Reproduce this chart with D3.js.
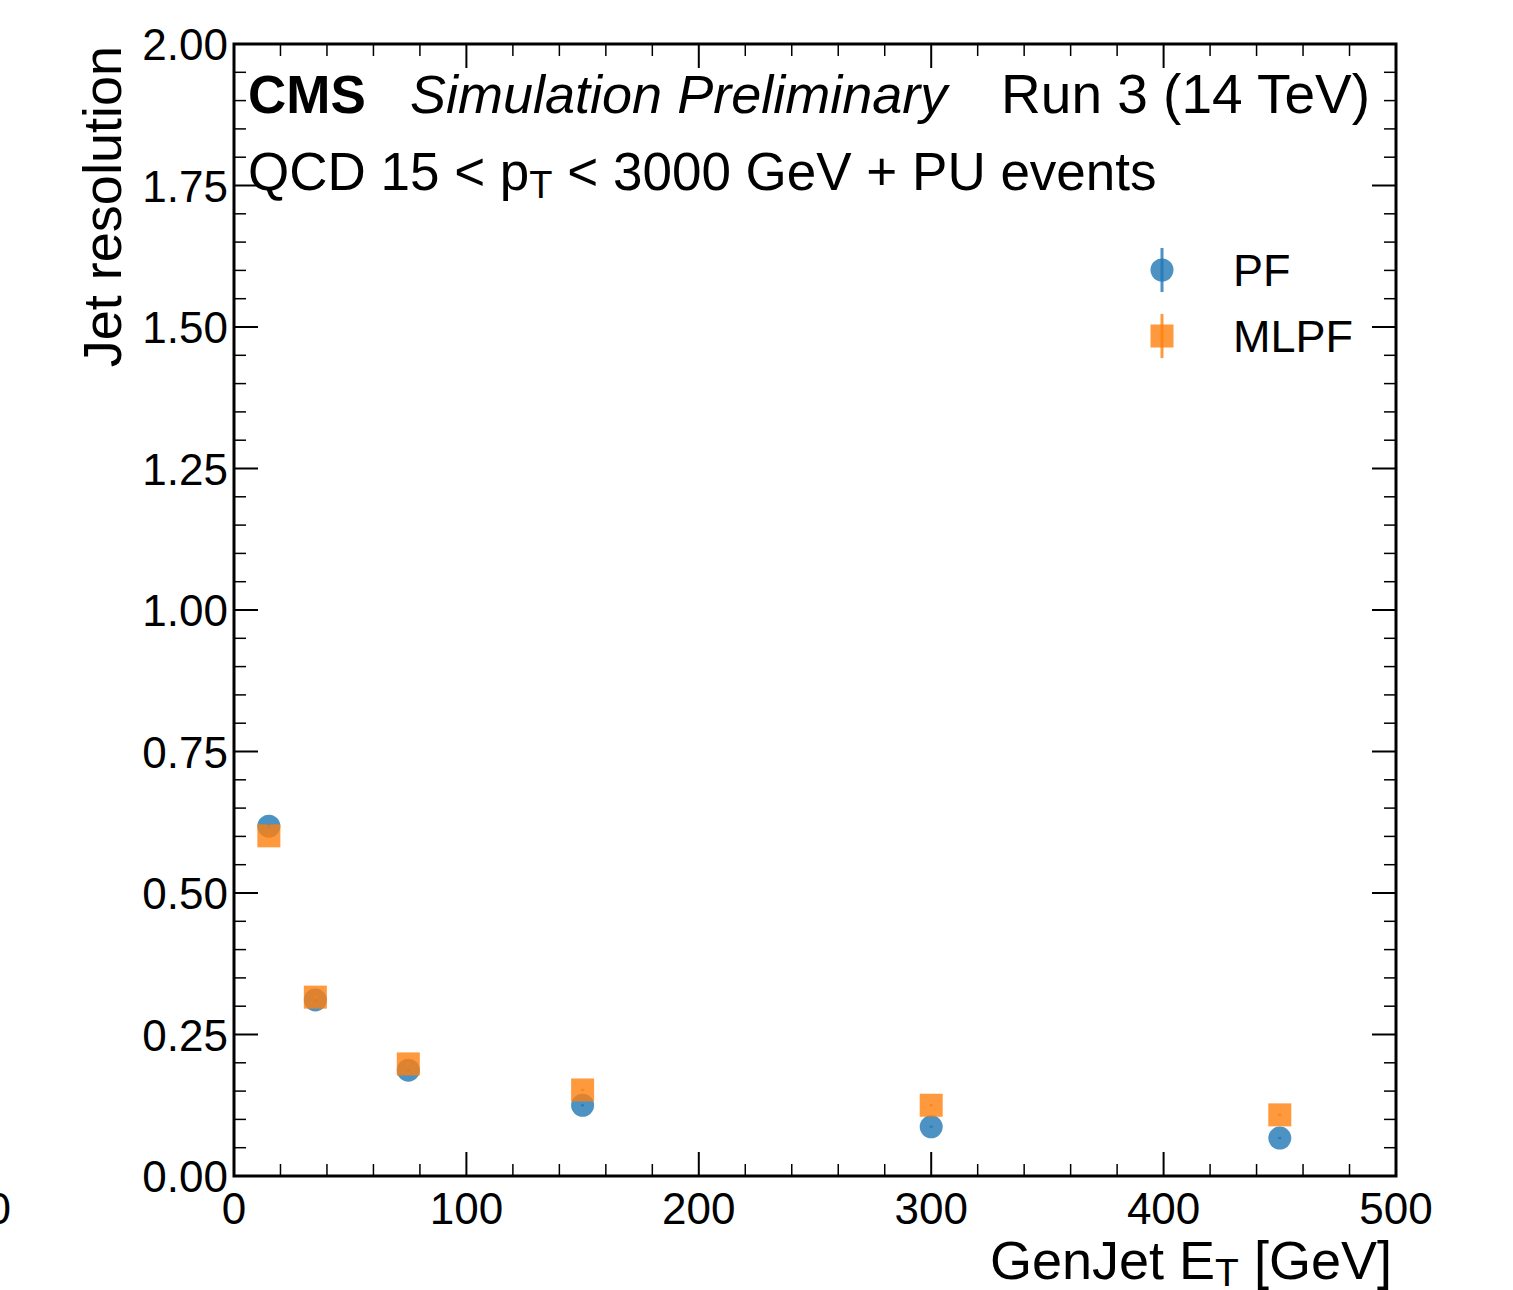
<!DOCTYPE html>
<html>
<head>
<meta charset="utf-8">
<script src="https://cdn.jsdelivr.net/npm/d3@7"></script>
<style>
  body { margin: 0; background: #fff; }
  svg { display: block; font-family: "Liberation Sans", Arial, sans-serif; }
</style>
</head>
<body>
<div id="chart"></div>
<script>
// bin centres of GenJet E_T [GeV]
const binCentres = [15, 35, 75, 150, 300, 450];
const pfResolution = [0.618, 0.311, 0.187, 0.125, 0.087, 0.067];
const mlpfResolution = [0.601, 0.316, 0.198, 0.152, 0.125, 0.108];
const pfErr = [0.004, 0.003, 0.002, 0.002, 0.002, 0.002];
const mlpfErr = [0.004, 0.003, 0.002, 0.002, 0.002, 0.002];
const xTicks = [0, 100, 200, 300, 400, 500];
const yTicks = [0, 0.25, 0.5, 0.75, 1.0, 1.25, 1.5, 1.75, 2.0];

const width = 1513, height = 1290;
const margin = { left: 234, right: 117, top: 44, bottom: 114 };

const x = d3.scaleLinear().domain([0, 500])
  .range([margin.left, width - margin.right]);
const y = d3.scaleLinear().domain([0, 2])
  .range([height - margin.bottom, margin.top]);

const blue = "#1f77b4", orange = "#ff7f0e";

const svg = d3.select("#chart").append("svg")
  .attr("width", width)
  .attr("height", height);

// ticks on all four sides, pointing inward
const majorLen = 24, minorLen = 12;
const xMinor = d3.range(0, 501, 20).filter(v => v % 100 !== 0);
const yMinor = d3.range(0, 41).map(i => i * 0.05).filter(v => Math.abs(v / 0.25 - Math.round(v / 0.25)) > 1e-6);

const tickG = svg.append("g").attr("stroke", "#000");

function xTickLines(vals, len, w) {
  tickG.selectAll(null).data(vals).join("line")
    .attr("x1", d => x(d)).attr("x2", d => x(d))
    .attr("y1", y(0)).attr("y2", y(0) - len).attr("stroke-width", w);
  tickG.selectAll(null).data(vals).join("line")
    .attr("x1", d => x(d)).attr("x2", d => x(d))
    .attr("y1", y(2)).attr("y2", y(2) + len).attr("stroke-width", w);
}
function yTickLines(vals, len, w) {
  tickG.selectAll(null).data(vals).join("line")
    .attr("y1", d => y(d)).attr("y2", d => y(d))
    .attr("x1", x(0)).attr("x2", x(0) + len).attr("stroke-width", w);
  tickG.selectAll(null).data(vals).join("line")
    .attr("y1", d => y(d)).attr("y2", d => y(d))
    .attr("x1", x(500)).attr("x2", x(500) - len).attr("stroke-width", w);
}
xTickLines(xTicks, majorLen, 2);
xTickLines(xMinor, minorLen, 1.5);
yTickLines(yTicks, majorLen, 2);
yTickLines(yMinor, minorLen, 1.5);

// frame
svg.append("rect")
  .attr("x", x(0)).attr("y", y(2))
  .attr("width", x(500) - x(0)).attr("height", y(0) - y(2))
  .attr("fill", "none").attr("stroke", "#000").attr("stroke-width", 3);

// tick labels
svg.append("g").selectAll("text").data(xTicks).join("text")
  .attr("x", d => x(d)).attr("y", y(0) + 48)
  .attr("text-anchor", "middle")
  .attr("font-size", 44)
  .text(d => d);

svg.append("g").selectAll("text").data(yTicks).join("text")
  .attr("x", x(0) - 6).attr("y", d => y(d) + 16)
  .attr("text-anchor", "end")
  .attr("font-size", 44)
  .text(d => d.toFixed(2));

// stray clipped label at far left
svg.append("text")
  .attr("x", 11).attr("y", y(0) + 48)
  .attr("text-anchor", "end")
  .attr("font-size", 44)
  .text("0");

// axis titles
svg.append("text")
  .attr("x", x(500) - 4).attr("y", 1279)
  .attr("text-anchor", "end")
  .attr("font-size", 54)
  .html('GenJet E<tspan baseline-shift="-18%" font-size="39">T</tspan><tspan baseline-shift="0"> [GeV]</tspan>');

svg.append("text")
  .attr("transform", `translate(121, ${margin.top + 2}) rotate(-90)`)
  .attr("text-anchor", "end")
  .attr("font-size", 54)
  .text("Jet resolution");

// header
svg.append("text")
  .attr("x", 248).attr("y", 113)
  .attr("font-size", 53).attr("font-weight", "bold")
  .text("CMS");
svg.append("text")
  .attr("x", 410).attr("y", 113)
  .attr("font-size", 54).attr("font-style", "italic")
  .text("Simulation Preliminary");
svg.append("text")
  .attr("x", 1370).attr("y", 113)
  .attr("text-anchor", "end")
  .attr("font-size", 55)
  .text("Run 3 (14 TeV)");
svg.append("text")
  .attr("x", 248).attr("y", 190)
  .attr("font-size", 53)
  .html('QCD 15 &lt; p<tspan baseline-shift="-20%" font-size="38">T</tspan><tspan baseline-shift="0"> &lt; 3000 GeV + PU events</tspan>');

// data
const series = [
  { name: "PF", vals: pfResolution, errs: pfErr, color: blue, shape: "circle" },
  { name: "MLPF", vals: mlpfResolution, errs: mlpfErr, color: orange, shape: "square" }
];

const markSize = 23;

function drawMarker(g, shape, color) {
  if (shape === "circle") {
    g.append("circle").attr("r", markSize / 2)
      .attr("fill", color).attr("fill-opacity", 0.8);
  } else {
    g.append("rect")
      .attr("x", -markSize / 2).attr("y", -markSize / 2)
      .attr("width", markSize).attr("height", markSize)
      .attr("fill", color).attr("fill-opacity", 0.8);
  }
}

series.forEach(s => {
  const g = svg.append("g");
  binCentres.forEach((c, i) => {
    g.append("line")
      .attr("x1", x(c)).attr("x2", x(c))
      .attr("y1", y(s.vals[i] - s.errs[i])).attr("y2", y(s.vals[i] + s.errs[i]))
      .attr("stroke", s.color).attr("stroke-width", 3).attr("stroke-opacity", 0.8);
    const m = g.append("g").attr("transform", `translate(${x(c)},${y(s.vals[i])})`);
    drawMarker(m, s.shape, s.color);
  });
});

// legend
const legend = svg.append("g");
series.forEach((s, i) => {
  const ly = 270 + i * 66;
  legend.append("line")
    .attr("x1", 1162).attr("x2", 1162)
    .attr("y1", ly - 22).attr("y2", ly + 22)
    .attr("stroke", s.color).attr("stroke-width", 3).attr("stroke-opacity", 0.8);
  const m = legend.append("g").attr("transform", `translate(1162,${ly})`);
  drawMarker(m, s.shape, s.color);
  legend.append("text")
    .attr("x", 1233).attr("y", ly + 16)
    .attr("font-size", 45)
    .text(s.name);
});
</script>
</body>
</html>
